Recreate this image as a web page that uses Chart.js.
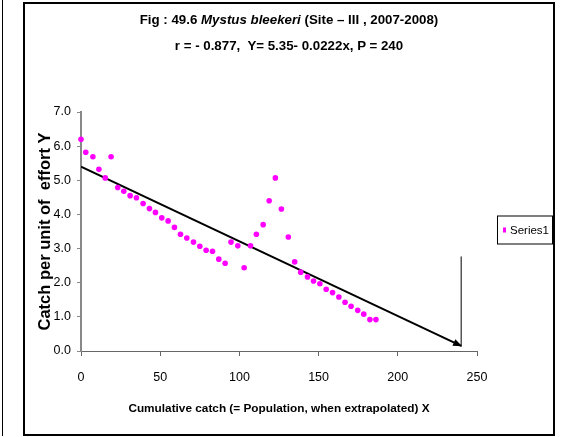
<!DOCTYPE html>
<html>
<head>
<meta charset="utf-8">
<script src="https://cdn.jsdelivr.net/npm/chart.js@4.4.0/dist/chart.umd.min.js"></script>
<style>
  body { margin: 0; background: #fff; }
  #page { position: relative; width: 569px; height: 437px; overflow: hidden; }
  #prev { position: absolute; left: 2px; top: 0; height: 436px; border-left: 1.5px solid #000; }
  #frame { position: absolute; left: 23px; top: 2px; width: 528px; height: 430px; border: 2px solid #000; }
  #title {
    position: absolute; left: 0; top: 3px; width: 528px; text-align: center;
    font: bold 13.3px "Liberation Sans", Arial, sans-serif;
    line-height: 26px; color: #000;
  }
  #chart { position: absolute; left: 0; top: 0; }
</style>
</head>
<body>
<div id="page">
  <div id="prev"></div>
  <div id="frame">
    <canvas id="chart" width="528" height="430"></canvas>
    <div id="title">Fig : 49.6 <i>Mystus bleekeri</i> (Site – III , 2007-2008)<br>r = - 0.877,&nbsp; Y= 5.35- 0.0222x, P = 240</div>
  </div>
</div>
<script>
  // cumulative catch (X) and catch per unit effort (Y)
  const catchX = [0, 3, 7.5, 11.3, 15.3, 19, 23.2, 27, 31, 35, 39.2, 43.2, 47, 51, 55, 59,
    62.8, 66.8, 71, 75, 79, 83, 87, 91, 94.7, 99, 103, 107, 110.7, 115, 118.8, 122.7, 126.5, 130.9,
    134.9, 138.7, 143, 146.8, 150.8, 154.8, 158.8, 162.8, 166.7, 170.5, 174.7, 178.5, 182.4, 186.2];
  const cpue = [6.2, 5.82, 5.69, 5.32, 5.07, 5.69, 4.79, 4.68, 4.55, 4.49, 4.32, 4.17, 4.06, 3.90, 3.81, 3.62,
    3.42, 3.31, 3.19, 3.07, 2.95, 2.92, 2.69, 2.57, 3.19, 3.08, 2.44, 3.08, 3.42, 3.70, 4.40, 5.07, 4.16, 3.34,
    2.61, 2.31, 2.17, 2.05, 1.97, 1.81, 1.71, 1.58, 1.43, 1.31, 1.19, 1.08, 0.92, 0.92];

  // regression line (extrapolated to P) and marker line at P
  const fitX = [0, 240];
  const fitY = [5.4, 0.15];
  const markX = [240, 240];
  const markY = [0.13, 2.77];

  const xTicks = [0, 50, 100, 150, 200, 250];
  const yTicks = [0, 1, 2, 3, 4, 5, 6, 7];

  const sans = '"Liberation Sans", Arial, sans-serif';
  const pts = (xs, ys) => xs.map((x, i) => ({ x: x, y: ys[i] }));

  // arrowhead at the end of the fitted line
  const arrowHead = {
    id: 'arrowHead',
    afterDatasetsDraw(chart) {
      const d = chart.getDatasetMeta(1).data;
      const a = d[0], b = d[d.length - 1];
      const ang = Math.atan2(b.y - a.y, b.x - a.x);
      const ctx = chart.ctx;
      ctx.save();
      ctx.fillStyle = '#000';
      ctx.translate(b.x, b.y);
      ctx.rotate(ang);
      ctx.beginPath();
      ctx.moveTo(1, 0);
      ctx.lineTo(-8, -3.5);
      ctx.lineTo(-8, 3.5);
      ctx.closePath();
      ctx.fill();
      ctx.restore();
    }
  };

  // boxed legend on the right, like the spreadsheet original
  const boxLegend = {
    id: 'boxLegend',
    afterDraw(chart) {
      const ds = chart.data.datasets[0];
      const area = chart.chartArea;
      const ctx = chart.ctx;
      const left = area.right + 20, w = 55, h = 28;
      const top = (area.top + area.bottom) / 2 - h / 2 - 2;
      ctx.save();
      ctx.strokeStyle = '#000';
      ctx.lineWidth = 1;
      ctx.strokeRect(left + 0.5, top + 0.5, w, h);
      ctx.fillStyle = ds.backgroundColor;
      ctx.fillRect(left + 6, top + h / 2 - 2, 3, 5);
      ctx.fillStyle = '#000';
      ctx.font = '11.5px ' + sans;
      ctx.textBaseline = 'middle';
      ctx.fillText(ds.label, left + 13, top + h / 2 + 1);
      ctx.restore();
    }
  };

  new Chart(document.getElementById('chart'), {
    type: 'scatter',
    data: {
      datasets: [{
        label: 'Series1',
        data: pts(catchX, cpue),
        backgroundColor: '#ff00ff',
        borderWidth: 0,
        pointRadius: 2.8,
        clip: false
      }, {
        type: 'line',
        label: 'fit',
        data: pts(fitX, fitY),
        borderColor: '#000',
        borderWidth: 2,
        pointRadius: 0,
        fill: false
      }, {
        type: 'line',
        label: 'P',
        data: pts(markX, markY),
        borderColor: '#000',
        borderWidth: 1,
        pointRadius: 0,
        fill: false
      }]
    },
    options: {
      responsive: false,
      animation: false,
      layout: { padding: { top: 108, right: 76, bottom: 0, left: 0 } },
      plugins: {
        legend: { display: false },
        tooltip: { enabled: false }
      },
      scales: {
        x: {
          type: 'linear',
          min: 0,
          max: 250,
          afterBuildTicks: (s) => { s.ticks = xTicks.map(v => ({ value: v })); },
          afterFit: (s) => { s.height = 83; },
          ticks: { color: '#000', padding: 14, font: { size: 12.5, family: sans } },
          grid: { drawOnChartArea: false, tickLength: 5, color: '#666' },
          border: { color: '#666', width: 1 },
          title: {
            display: true,
            text: 'Cumulative catch (= Population, when extrapolated) X',
            color: '#000',
            font: { size: 11.8, weight: 'bold', family: sans },
            padding: { top: 0, bottom: 18 }
          }
        },
        y: {
          min: 0,
          max: 7,
          afterBuildTicks: (s) => { s.ticks = yTicks.map(v => ({ value: v })); },
          afterFit: (s) => { s.width = 56; },
          ticks: { color: '#000', padding: 6, font: { size: 12.5, family: sans }, callback: (v) => v.toFixed(1) },
          grid: { drawOnChartArea: false, tickLength: 4, color: '#888' },
          border: { color: '#888', width: 2 },
          title: {
            display: true,
            text: 'Catch per unit of  effort Y',
            color: '#000',
            font: { size: 16.5, weight: 'bold', family: sans },
            padding: { top: 11, bottom: 0 }
          }
        }
      }
    },
    plugins: [arrowHead, boxLegend]
  });
</script>
</body>
</html>
